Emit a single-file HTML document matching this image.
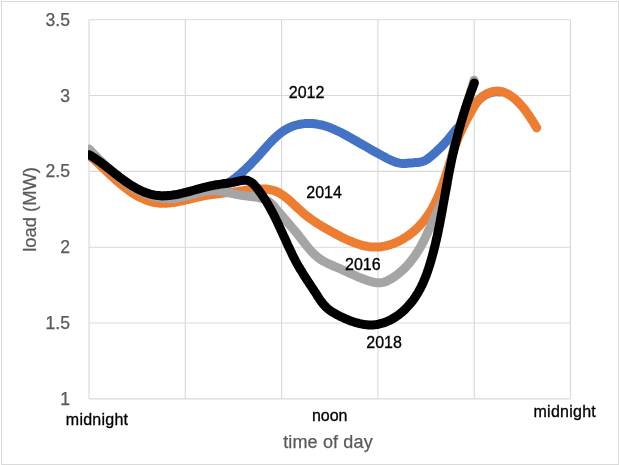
<!DOCTYPE html>
<html><head><meta charset="utf-8"><title>load by time of day</title>
<style>
html,body{margin:0;padding:0;background:#fff;}
body{width:619px;height:465px;overflow:hidden;}
svg{display:block;font-family:"Liberation Sans",sans-serif;}
.grid line{stroke:#D9D9D9;stroke-width:1.15;}
.curves path{fill:none;stroke-width:9;stroke-linecap:round;stroke-linejoin:round;}
.ax{font-size:17.6px;fill:#595959;stroke:#595959;stroke-width:0.25;}
.title{font-size:18px;fill:#595959;stroke:#595959;stroke-width:0.25;}
.lbl{font-size:16px;fill:#000;stroke:#000;stroke-width:0.3;}
</style></head><body>
<svg width="619" height="465" viewBox="0 0 619 465">
<defs><clipPath id="plot"><rect x="88" y="0" width="531" height="465"/></clipPath></defs>
<rect x="0" y="0" width="619" height="465" fill="#fff"/>
<rect x="1.5" y="1.5" width="617" height="463" fill="none" stroke="#DADADA" stroke-width="1"/>
<g class="grid">
<line x1="89" y1="19.7" x2="570.5" y2="19.7"/>
<line x1="89" y1="95.5" x2="570.5" y2="95.5"/>
<line x1="89" y1="171.3" x2="570.5" y2="171.3"/>
<line x1="89" y1="247.2" x2="570.5" y2="247.2"/>
<line x1="89" y1="323.0" x2="570.5" y2="323.0"/>
<line x1="89" y1="398.8" x2="570.5" y2="398.8"/>
<line x1="89.0" y1="19.7" x2="89.0" y2="398.8"/>
<line x1="185.3" y1="19.7" x2="185.3" y2="398.8"/>
<line x1="281.6" y1="19.7" x2="281.6" y2="398.8"/>
<line x1="377.9" y1="19.7" x2="377.9" y2="398.8"/>
<line x1="474.2" y1="19.7" x2="474.2" y2="398.8"/>
<line x1="570.5" y1="19.7" x2="570.5" y2="398.8"/>
</g>
<g class="ax">
<text x="70" y="25.8" text-anchor="end">3.5</text>
<text x="70" y="101.6" text-anchor="end">3</text>
<text x="70" y="177.4" text-anchor="end">2.5</text>
<text x="70" y="253.3" text-anchor="end">2</text>
<text x="70" y="329.1" text-anchor="end">1.5</text>
<text x="70" y="404.9" text-anchor="end">1</text>
</g>
<text class="title" x="328" y="448" text-anchor="middle" letter-spacing="0.15">time of day</text>
<text class="title" transform="translate(35.6,209.4) rotate(-90)" text-anchor="middle" style="font-size:18.4px">load (MW)</text>
<g class="curves" clip-path="url(#plot)">
<path d="M89.0,155.5 L90.7,156.4 L92.4,157.3 L94.1,158.2 L95.8,159.2 L97.4,160.3 L99.0,161.4 L100.7,162.5 L102.3,163.7 L103.9,165.0 L105.5,166.2 L107.0,167.5 L108.6,168.8 L110.2,170.1 L111.8,171.4 L113.3,172.7 L114.9,174.0 L116.5,175.3 L118.1,176.7 L119.6,178.0 L121.2,179.2 L122.8,180.5 L124.4,181.7 L126.1,183.0 L127.7,184.1 L129.4,185.3 L131.0,186.4 L132.7,187.4 L134.4,188.4 L136.1,189.4 L137.9,190.3 L139.7,191.1 L141.5,191.8 L143.3,192.5 L145.1,193.1 L147.0,193.7 L148.9,194.2 L150.8,194.6 L152.7,195.0 L154.7,195.3 L156.6,195.5 L158.6,195.7 L160.6,195.8 L162.6,195.9 L164.6,196.0 L166.6,195.9 L168.6,195.9 L170.6,195.8 L172.6,195.6 L174.7,195.4 L176.7,195.2 L178.7,194.9 L180.7,194.5 L182.7,194.2 L184.7,193.8 L186.7,193.4 L188.7,192.9 L190.7,192.4 L192.6,191.9 L194.6,191.3 L196.5,190.7 L198.4,190.1 L200.3,189.5 L202.2,188.8 L204.0,188.2 L205.8,187.5 L207.7,186.9 L209.5,186.3 L211.4,185.8 L213.3,185.4 L215.3,185.1 L217.3,184.9 L219.3,184.8 L221.3,184.6 L223.3,184.4 L225.2,184.0 L227.1,183.4 L228.9,182.6 L230.6,181.5 L232.3,180.4 L233.9,179.1 L235.4,177.9 L237.0,176.6 L238.5,175.4 L240.0,174.1 L241.5,172.8 L243.0,171.5 L244.4,170.1 L245.9,168.8 L247.3,167.4 L248.7,166.1 L250.1,164.7 L251.5,163.3 L252.8,161.8 L254.2,160.4 L255.6,159.0 L256.9,157.5 L258.3,156.0 L259.6,154.5 L261.0,153.0 L262.3,151.4 L263.7,149.9 L265.1,148.4 L266.4,146.8 L267.8,145.3 L269.2,143.8 L270.6,142.3 L272.1,140.8 L273.5,139.3 L275.0,137.9 L276.5,136.5 L278.0,135.2 L279.5,133.9 L281.1,132.7 L282.7,131.5 L284.4,130.4 L286.0,129.4 L287.7,128.5 L289.5,127.6 L291.3,126.8 L293.1,126.1 L294.9,125.5 L296.8,125.0 L298.7,124.5 L300.7,124.1 L302.6,123.9 L304.6,123.6 L306.5,123.5 L308.5,123.5 L310.5,123.5 L312.5,123.6 L314.4,123.8 L316.4,124.0 L318.3,124.4 L320.3,124.7 L322.2,125.2 L324.2,125.7 L326.1,126.3 L328.0,126.9 L329.9,127.6 L331.7,128.4 L333.6,129.1 L335.5,130.0 L337.3,130.8 L339.2,131.7 L341.0,132.6 L342.8,133.5 L344.6,134.5 L346.4,135.5 L348.2,136.5 L350.0,137.5 L351.8,138.5 L353.5,139.5 L355.3,140.5 L357.0,141.5 L358.7,142.5 L360.5,143.5 L362.2,144.5 L363.9,145.4 L365.6,146.4 L367.3,147.4 L369.0,148.4 L370.7,149.4 L372.4,150.3 L374.1,151.3 L375.9,152.3 L377.6,153.2 L379.3,154.2 L381.1,155.1 L382.9,156.1 L384.6,157.0 L386.4,158.0 L388.2,158.9 L390.1,159.8 L391.9,160.6 L393.8,161.4 L395.6,162.1 L397.5,162.7 L399.5,163.1 L401.4,163.4 L403.4,163.5 L405.4,163.5 L407.4,163.3 L409.4,163.1 L411.4,162.9 L413.4,162.8 L415.4,162.6 L417.4,162.5 L419.4,162.2 L421.3,161.9 L423.1,161.3 L424.9,160.6 L426.7,159.6 L428.3,158.4 L429.9,157.2 L431.5,155.8 L433.1,154.5 L434.6,153.1 L436.1,151.8 L437.6,150.4 L439.0,149.0 L440.5,147.6 L441.9,146.2 L443.3,144.8 L444.6,143.4 L445.9,141.9 L447.3,140.5 L448.5,139.0 L449.8,137.4 L451.0,135.9 L452.3,134.3 L453.5,132.7 L454.7,131.1 L456.0,129.6 L457.3,128.2 L458.7,126.9 L460.2,125.6 L461.7,124.4 L463.1,123.1 L464.4,121.8 L465.5,120.3 L466.5,118.7 L467.4,117.0 L468.3,115.2 L469.2,113.5 L470.1,111.7 L471.0,109.9 L472.1,108.2 L473.2,106.5 L474.4,104.8 L475.6,103.2 L477.0,101.7 L478.4,100.2 L479.9,98.8 L481.4,97.5 L483.0,96.4 L484.7,95.3 L486.4,94.4 L488.2,93.5 L490.0,92.9 L491.9,92.4 L493.9,92.0 L495.9,91.8 L498.0,91.8 L500.1,92.0" stroke="#4472C4"/>
<path d="M89.3,155.4 L90.7,156.6 L92.1,157.8 L93.5,159.0 L94.9,160.3 L96.3,161.6 L97.7,162.9 L99.2,164.3 L100.6,165.6 L102.0,167.0 L103.5,168.4 L105.0,169.8 L106.5,171.2 L107.9,172.6 L109.4,174.0 L110.9,175.4 L112.5,176.8 L114.0,178.2 L115.5,179.6 L117.1,181.0 L118.7,182.4 L120.2,183.7 L121.8,185.0 L123.4,186.3 L125.0,187.6 L126.7,188.8 L128.3,190.0 L130.0,191.2 L131.6,192.4 L133.3,193.5 L135.0,194.5 L136.7,195.5 L138.4,196.5 L140.2,197.4 L141.9,198.2 L143.7,199.0 L145.5,199.8 L147.3,200.5 L149.1,201.1 L151.0,201.6 L152.8,202.1 L154.7,202.5 L156.6,202.8 L158.5,203.0 L160.4,203.2 L162.4,203.3 L164.3,203.3 L166.3,203.2 L168.3,203.1 L170.3,202.9 L172.3,202.6 L174.3,202.4 L176.3,202.0 L178.4,201.6 L180.4,201.2 L182.4,200.8 L184.5,200.3 L186.5,199.9 L188.5,199.4 L190.6,198.9 L192.6,198.4 L194.6,197.9 L196.6,197.4 L198.6,197.0 L200.6,196.5 L202.6,196.1 L204.5,195.7 L206.5,195.4 L208.4,195.1 L210.4,194.8 L212.3,194.5 L214.2,194.2 L216.1,194.0 L218.0,193.7 L219.9,193.5 L221.8,193.3 L223.8,193.0 L225.7,192.8 L227.6,192.6 L229.5,192.4 L231.5,192.2 L233.4,192.0 L235.4,191.7 L237.4,191.5 L239.4,191.2 L241.4,190.9 L243.5,190.6 L245.5,190.3 L247.6,190.0 L249.6,189.8 L251.7,189.5 L253.7,189.3 L255.8,189.1 L257.8,189.0 L259.9,188.9 L261.9,188.9 L263.9,188.9 L265.9,189.1 L267.8,189.3 L269.7,189.6 L271.6,190.0 L273.5,190.5 L275.3,191.1 L277.0,191.9 L278.8,192.7 L280.5,193.7 L282.1,194.7 L283.8,195.9 L285.4,197.1 L287.0,198.3 L288.5,199.6 L290.1,201.0 L291.6,202.4 L293.1,203.8 L294.6,205.2 L296.1,206.6 L297.6,208.0 L299.2,209.4 L300.7,210.8 L302.2,212.2 L303.7,213.5 L305.2,214.7 L306.7,215.9 L308.3,217.1 L309.8,218.3 L311.4,219.4 L313.0,220.5 L314.6,221.6 L316.2,222.6 L317.8,223.7 L319.4,224.7 L321.1,225.7 L322.7,226.7 L324.4,227.7 L326.1,228.7 L327.8,229.6 L329.6,230.6 L331.3,231.6 L333.1,232.5 L334.9,233.5 L336.7,234.5 L338.6,235.5 L340.4,236.4 L342.3,237.4 L344.1,238.3 L346.0,239.2 L347.9,240.1 L349.9,240.9 L351.8,241.7 L353.7,242.5 L355.7,243.2 L357.6,243.9 L359.6,244.5 L361.5,245.1 L363.5,245.6 L365.5,246.0 L367.4,246.4 L369.4,246.7 L371.3,246.9 L373.3,247.0 L375.2,247.1 L377.2,247.0 L379.1,246.9 L381.1,246.7 L383.0,246.4 L384.9,246.1 L386.8,245.6 L388.7,245.1 L390.5,244.6 L392.4,243.9 L394.2,243.2 L396.1,242.5 L397.9,241.7 L399.6,240.8 L401.4,239.9 L403.1,238.9 L404.8,237.8 L406.5,236.7 L408.2,235.6 L409.8,234.4 L411.4,233.1 L413.0,231.9 L414.5,230.6 L416.0,229.2 L417.5,227.8 L418.9,226.4 L420.3,224.9 L421.6,223.4 L422.9,221.9 L424.2,220.3 L425.4,218.8 L426.6,217.1 L427.7,215.5 L428.9,213.9 L429.9,212.2 L431.0,210.5 L432.0,208.8 L432.9,207.1 L433.9,205.3 L434.8,203.6 L435.6,201.8 L436.5,200.0 L437.3,198.2 L438.1,196.3 L438.9,194.5 L439.7,192.6 L440.4,190.8 L441.1,188.9 L441.8,187.0 L442.5,185.1 L443.2,183.2 L443.8,181.3 L444.5,179.4 L445.1,177.5 L445.7,175.5 L446.3,173.6 L447.0,171.7 L447.6,169.7 L448.2,167.8 L448.8,165.9 L449.4,163.9 L450.0,162.0 L450.6,160.0 L451.2,158.1 L451.8,156.2 L452.4,154.3 L453.0,152.4 L453.6,150.4 L454.3,148.5 L454.9,146.6 L455.6,144.8 L456.3,142.9 L457.0,141.0 L457.7,139.2 L458.4,137.3 L459.2,135.5 L460.0,133.7 L460.8,131.9 L461.6,130.1 L462.4,128.3 L463.3,126.6 L464.2,124.8 L465.0,123.0 L466.0,121.3 L466.9,119.5 L467.8,117.7 L468.8,116.0 L469.7,114.2 L470.7,112.4 L471.7,110.7 L472.7,108.9 L473.8,107.1 L474.8,105.3 L476.0,103.6 L477.2,102.0 L478.5,100.4 L479.9,98.9 L481.4,97.6 L482.9,96.3 L484.6,95.2 L486.3,94.1 L488.0,93.2 L489.8,92.5 L491.7,91.9 L493.5,91.5 L495.4,91.2 L497.3,91.1 L499.1,91.2 L501.0,91.5 L502.8,91.9 L504.6,92.5 L506.4,93.3 L508.1,94.2 L509.8,95.2 L511.5,96.4 L513.2,97.6 L514.8,98.9 L516.4,100.3 L517.9,101.8 L519.4,103.4 L520.8,104.9 L522.2,106.5 L523.6,108.2 L524.9,109.8 L526.1,111.5 L527.3,113.1 L528.4,114.7 L529.5,116.4 L530.6,118.0 L531.6,119.6 L532.7,121.2 L533.7,122.9 L534.7,124.5 L535.7,126.2 L536.7,127.9" stroke="#ED7D31"/>
<path d="M89.1,149.1 L90.4,150.4 L91.7,151.8 L93.0,153.2 L94.3,154.5 L95.7,155.9 L97.1,157.3 L98.4,158.7 L99.8,160.1 L101.3,161.5 L102.7,162.9 L104.2,164.3 L105.6,165.7 L107.1,167.1 L108.6,168.5 L110.1,169.9 L111.7,171.2 L113.2,172.6 L114.8,173.9 L116.4,175.3 L118.0,176.6 L119.6,177.9 L121.2,179.1 L122.8,180.4 L124.5,181.6 L126.2,182.8 L127.8,183.9 L129.5,185.1 L131.2,186.2 L133.0,187.2 L134.7,188.3 L136.4,189.2 L138.2,190.2 L140.0,191.1 L141.8,192.0 L143.6,192.8 L145.4,193.6 L147.2,194.3 L149.0,195.0 L150.9,195.6 L152.7,196.2 L154.6,196.7 L156.5,197.2 L158.4,197.6 L160.3,197.9 L162.2,198.2 L164.1,198.4 L166.0,198.5 L167.9,198.6 L169.9,198.6 L171.9,198.6 L173.8,198.4 L175.8,198.2 L177.8,197.9 L179.8,197.6 L181.8,197.2 L183.8,196.7 L185.8,196.2 L187.8,195.7 L189.8,195.2 L191.8,194.6 L193.9,194.1 L195.9,193.5 L197.9,193.0 L199.9,192.5 L201.9,192.0 L203.9,191.6 L205.9,191.2 L207.9,190.9 L209.9,190.7 L211.9,190.6 L213.8,190.5 L215.8,190.5 L217.7,190.7 L219.7,190.9 L221.6,191.2 L223.5,191.5 L225.4,191.9 L227.4,192.4 L229.3,192.8 L231.3,193.3 L233.2,193.7 L235.2,194.2 L237.2,194.6 L239.2,194.9 L241.2,195.2 L243.2,195.5 L245.2,195.8 L247.3,196.0 L249.3,196.2 L251.3,196.5 L253.3,196.8 L255.3,197.1 L257.3,197.4 L259.2,197.8 L261.1,198.3 L263.0,198.9 L264.8,199.5 L266.5,200.3 L268.2,201.2 L269.8,202.3 L271.2,203.5 L272.6,204.8 L273.9,206.3 L275.2,207.8 L276.5,209.4 L277.8,210.9 L279.1,212.4 L280.4,213.9 L281.7,215.5 L283.0,217.0 L284.3,218.5 L285.6,220.0 L286.9,221.5 L288.2,223.0 L289.5,224.5 L290.8,226.1 L292.1,227.6 L293.4,229.1 L294.7,230.7 L296.0,232.2 L297.3,233.8 L298.5,235.4 L299.8,237.0 L301.1,238.6 L302.3,240.2 L303.5,241.8 L304.8,243.4 L306.0,245.0 L307.3,246.6 L308.6,248.1 L309.9,249.6 L311.2,251.1 L312.6,252.6 L314.0,254.0 L315.4,255.4 L316.9,256.7 L318.5,257.9 L320.1,259.1 L321.7,260.1 L323.4,261.2 L325.2,262.1 L327.0,263.0 L328.8,263.9 L330.6,264.7 L332.5,265.5 L334.3,266.3 L336.2,267.1 L338.1,267.9 L339.9,268.7 L341.7,269.5 L343.5,270.3 L345.3,271.1 L347.1,272.0 L348.9,272.8 L350.7,273.6 L352.5,274.4 L354.3,275.2 L356.1,276.0 L357.9,276.8 L359.8,277.6 L361.7,278.3 L363.5,279.1 L365.5,279.8 L367.4,280.5 L369.4,281.1 L371.3,281.7 L373.3,282.2 L375.3,282.5 L377.3,282.7 L379.3,282.8 L381.2,282.7 L383.1,282.3 L385.0,281.8 L386.9,281.0 L388.7,280.2 L390.4,279.2 L392.2,278.2 L393.9,277.1 L395.5,275.9 L397.2,274.7 L398.8,273.5 L400.3,272.2 L401.8,270.9 L403.3,269.5 L404.7,268.1 L406.1,266.7 L407.5,265.2 L408.8,263.7 L410.1,262.1 L411.4,260.5 L412.6,258.9 L413.8,257.3 L415.0,255.7 L416.1,254.0 L417.2,252.3 L418.3,250.6 L419.3,248.9 L420.3,247.2 L421.3,245.4 L422.2,243.7 L423.2,241.9 L424.1,240.1 L424.9,238.3 L425.8,236.5 L426.7,234.7 L427.5,232.9 L428.3,231.1 L429.2,229.3 L430.0,227.5 L430.8,225.6 L431.6,223.8 L432.4,222.0 L433.3,220.2 L434.1,218.3 L435.0,216.5 L435.8,214.7 L436.7,212.9 L437.6,211.1 L438.5,209.3 L439.3,207.5 L440.2,205.6 L441.1,203.8 L441.9,202.0 L442.7,200.2 L443.4,198.3 L444.1,196.4 L444.8,194.6 L445.4,192.6 L445.9,190.7 L446.3,188.8 L446.7,186.8 L447.0,184.8 L447.3,182.9 L447.5,180.9 L447.8,178.9 L448.1,176.9 L448.4,174.9 L448.7,172.9 L449.0,170.9 L449.3,168.9 L449.7,167.0 L450.1,165.0 L450.5,163.0 L450.9,161.1 L451.3,159.1 L451.7,157.2 L452.1,155.2 L452.6,153.3 L453.1,151.3 L453.5,149.4 L454.0,147.4 L454.5,145.5 L455.0,143.5 L455.6,141.6 L456.1,139.7 L456.6,137.7 L457.2,135.8 L457.7,133.9 L458.3,132.0 L458.8,130.0 L459.4,128.1 L460.0,126.2 L460.6,124.3 L461.1,122.4 L461.7,120.4 L462.3,118.5 L462.9,116.6 L463.5,114.7 L464.1,112.8 L464.7,110.9 L465.3,109.0 L465.9,107.0 L466.5,105.1 L467.1,103.2 L467.7,101.3 L468.3,99.4 L468.9,97.5 L469.5,95.6 L470.1,93.6 L470.6,91.7 L471.2,89.8 L471.8,87.9 L472.4,86.0 L472.9,84.1 L473.5,82.1 L474.0,80.2" stroke="#A5A5A5"/>
<path d="M89.3,154.7 L90.9,155.7 L92.5,156.7 L94.1,157.7 L95.7,158.8 L97.2,159.9 L98.8,161.0 L100.4,162.2 L102.0,163.4 L103.6,164.6 L105.2,165.8 L106.8,167.1 L108.4,168.3 L110.0,169.6 L111.6,170.9 L113.2,172.1 L114.8,173.4 L116.4,174.7 L118.0,175.9 L119.7,177.2 L121.3,178.4 L123.0,179.6 L124.6,180.8 L126.3,182.0 L128.0,183.1 L129.6,184.2 L131.3,185.3 L133.1,186.4 L134.8,187.4 L136.5,188.4 L138.3,189.3 L140.0,190.2 L141.8,191.0 L143.6,191.8 L145.4,192.5 L147.2,193.1 L149.0,193.7 L150.9,194.3 L152.7,194.7 L154.6,195.1 L156.5,195.4 L158.5,195.6 L160.4,195.8 L162.4,195.9 L164.3,195.8 L166.3,195.8 L168.3,195.6 L170.4,195.4 L172.4,195.1 L174.4,194.8 L176.5,194.5 L178.5,194.1 L180.5,193.6 L182.6,193.2 L184.6,192.7 L186.6,192.2 L188.7,191.6 L190.7,191.1 L192.7,190.5 L194.7,190.0 L196.6,189.4 L198.6,188.9 L200.5,188.4 L202.4,187.9 L204.3,187.4 L206.2,187.0 L208.0,186.5 L209.9,186.1 L211.7,185.7 L213.5,185.4 L215.4,185.0 L217.3,184.7 L219.1,184.4 L221.1,184.1 L223.0,183.8 L225.0,183.5 L227.0,183.3 L229.0,183.0 L231.1,182.7 L233.2,182.3 L235.3,181.9 L237.4,181.4 L239.5,180.9 L241.5,180.5 L243.5,180.2 L245.4,180.1 L247.1,180.3 L248.8,180.9 L250.4,181.7 L251.9,182.7 L253.4,184.0 L254.7,185.4 L256.0,186.9 L257.3,188.5 L258.6,190.1 L259.8,191.8 L260.9,193.4 L262.1,195.0 L263.2,196.7 L264.3,198.4 L265.4,200.1 L266.5,201.8 L267.5,203.5 L268.5,205.3 L269.5,207.0 L270.5,208.7 L271.4,210.5 L272.4,212.3 L273.3,214.0 L274.2,215.8 L275.1,217.6 L276.0,219.4 L276.9,221.2 L277.7,223.0 L278.6,224.8 L279.4,226.7 L280.3,228.5 L281.1,230.3 L281.9,232.1 L282.8,234.0 L283.6,235.8 L284.4,237.6 L285.3,239.4 L286.1,241.2 L286.9,243.1 L287.7,244.9 L288.6,246.7 L289.4,248.5 L290.3,250.3 L291.2,252.1 L292.0,253.9 L292.9,255.7 L293.8,257.5 L294.7,259.2 L295.6,261.0 L296.6,262.7 L297.5,264.5 L298.5,266.2 L299.5,267.9 L300.5,269.6 L301.6,271.3 L302.6,273.0 L303.6,274.7 L304.7,276.4 L305.8,278.0 L306.9,279.7 L308.0,281.4 L309.1,283.1 L310.2,284.7 L311.3,286.4 L312.4,288.1 L313.5,289.8 L314.6,291.5 L315.8,293.2 L316.9,295.0 L318.0,296.7 L319.1,298.4 L320.2,300.1 L321.4,301.7 L322.6,303.3 L323.9,304.9 L325.2,306.3 L326.6,307.7 L328.0,308.9 L329.5,310.1 L331.0,311.2 L332.6,312.2 L334.3,313.2 L336.0,314.2 L337.7,315.1 L339.5,316.0 L341.3,316.9 L343.2,317.7 L345.1,318.6 L347.0,319.4 L348.9,320.2 L350.9,320.9 L352.8,321.6 L354.8,322.3 L356.8,322.8 L358.8,323.4 L360.8,323.8 L362.8,324.2 L364.8,324.5 L366.8,324.7 L368.8,324.9 L370.8,324.9 L372.8,324.9 L374.7,324.7 L376.6,324.5 L378.6,324.2 L380.4,323.7 L382.3,323.2 L384.2,322.6 L386.0,322.0 L387.8,321.2 L389.6,320.4 L391.3,319.5 L393.0,318.5 L394.7,317.5 L396.4,316.4 L398.0,315.3 L399.6,314.1 L401.2,312.8 L402.7,311.5 L404.2,310.2 L405.6,308.8 L407.0,307.3 L408.4,305.8 L409.7,304.3 L411.0,302.8 L412.3,301.2 L413.5,299.6 L414.7,297.9 L415.8,296.3 L416.8,294.6 L417.9,292.9 L418.9,291.1 L419.8,289.4 L420.8,287.6 L421.7,285.8 L422.5,284.0 L423.4,282.2 L424.1,280.3 L424.9,278.5 L425.7,276.6 L426.4,274.7 L427.1,272.8 L427.7,270.9 L428.4,269.0 L429.0,267.1 L429.6,265.2 L430.2,263.3 L430.8,261.3 L431.3,259.4 L431.9,257.5 L432.4,255.5 L432.9,253.6 L433.5,251.7 L434.0,249.7 L434.4,247.8 L434.9,245.8 L435.4,243.9 L435.8,241.9 L436.3,240.0 L436.7,238.0 L437.2,236.1 L437.6,234.1 L438.0,232.2 L438.4,230.2 L438.8,228.2 L439.2,226.3 L439.6,224.3 L440.0,222.4 L440.3,220.4 L440.7,218.4 L441.1,216.5 L441.4,214.5 L441.8,212.6 L442.2,210.6 L442.5,208.6 L442.9,206.7 L443.2,204.7 L443.6,202.7 L443.9,200.8 L444.3,198.8 L444.6,196.8 L445.0,194.9 L445.3,192.9 L445.6,190.9 L446.0,189.0 L446.4,187.0 L446.7,185.1 L447.1,183.1 L447.4,181.1 L447.8,179.2 L448.2,177.2 L448.5,175.2 L448.9,173.3 L449.3,171.3 L449.7,169.4 L450.1,167.4 L450.5,165.4 L450.9,163.5 L451.3,161.5 L451.7,159.6 L452.1,157.6 L452.6,155.7 L453.0,153.7 L453.5,151.8 L453.9,149.8 L454.4,147.9 L454.8,145.9 L455.3,144.0 L455.8,142.1 L456.3,140.1 L456.8,138.2 L457.3,136.2 L457.8,134.3 L458.3,132.4 L458.8,130.4 L459.4,128.5 L459.9,126.6 L460.5,124.7 L461.0,122.7 L461.6,120.8 L462.2,118.9 L462.7,117.0 L463.3,115.1 L463.9,113.2 L464.5,111.3 L465.1,109.3 L465.7,107.4 L466.4,105.5 L467.0,103.6 L467.6,101.7 L468.3,99.9 L468.9,98.0 L469.6,96.1 L470.3,94.2 L470.9,92.3 L471.6,90.4 L472.3,88.6 L473.0,86.7 L473.7,84.8 L474.4,82.9" stroke="#000000"/>
</g>
<g class="lbl">
<text x="65.8" y="424.5" letter-spacing="0.25">midnight</text>
<text x="311.9" y="421.2">noon</text>
<text x="533.5" y="417.2" letter-spacing="0.25">midnight</text>
<text x="288.8" y="98">2012</text>
<text x="306.3" y="197.7">2014</text>
<text x="345" y="270.4">2016</text>
<text x="366.3" y="347.7">2018</text>
</g>
</svg>
</body></html>
